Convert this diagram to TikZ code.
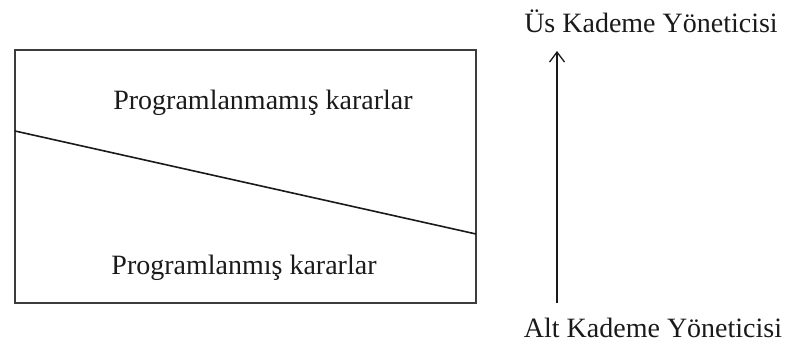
\documentclass[tikz,border=0pt]{standalone}
\usepackage{fontspec}
\setmainfont{Liberation Serif}
\usetikzlibrary{arrows.meta,positioning}
\definecolor{dgInk}  {HTML}{1A1A1A}
\definecolor{dgFrame}{HTML}{3C3C3C}
\begin{document}
\begin{tikzpicture}[x=1pt,y=-1pt,
    lbl/.style={font=\fontsize{28}{32}\selectfont,text=dgInk,inner sep=0pt,anchor=base}]
  \useasboundingbox (0,0) rectangle (786,352);
  % decision box
  \coordinate (boxTL) at (15,50);
  \coordinate (boxBR) at (476,303);
  \draw[dgFrame,line width=1.8pt] (boxTL) rectangle (boxBR);
  \coordinate (cutL) at (15,131);
  \coordinate (cutR) at (476,234);
  \draw[dgInk,line width=1.6pt] (cutL) -- (cutR);
  \node[lbl] (unprog) at (263,110) {Programlanmamış kararlar};
  \node[lbl] (prog)   at (244,275) {Programlanmış kararlar};
  % management levels
  \node[lbl] (upper) at (651,33)  {Üs Kademe Yöneticisi};
  \node[lbl] (lower) at (653,337) {Alt Kademe Yöneticisi};
  \coordinate (arrLow)  at (557,303);
  \coordinate (arrHigh) at (557,51);
  \draw[dgInk,line width=1.3pt,-{Straight Barb[length=10pt,width=15pt]}] (arrLow) -- (arrHigh);
\end{tikzpicture}
\end{document}
